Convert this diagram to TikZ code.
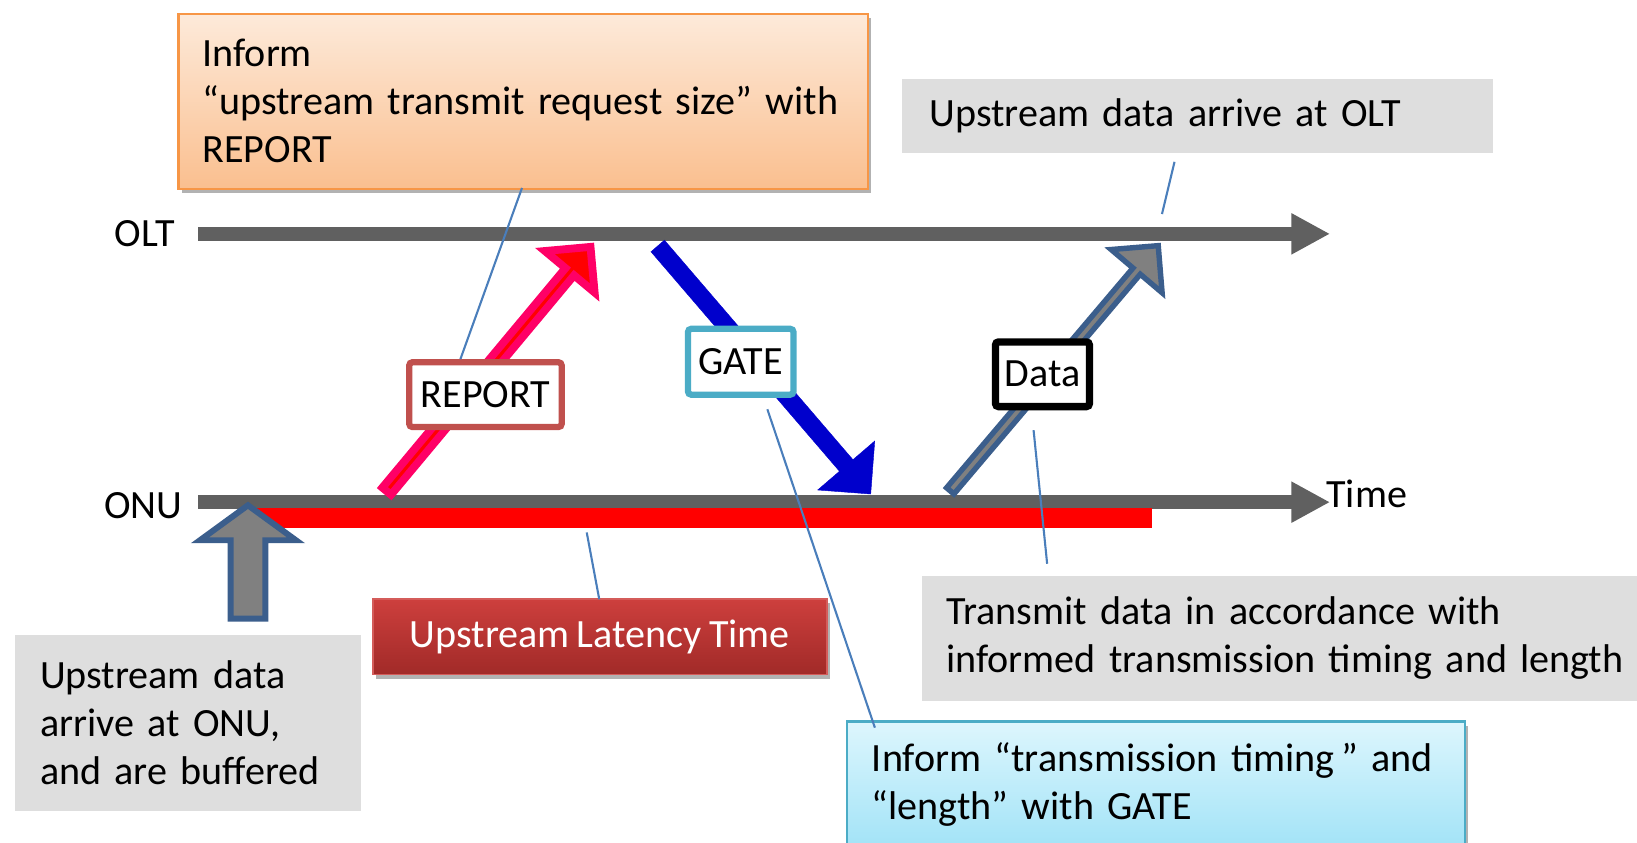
\documentclass[tikz,border=0pt]{standalone}
\usepackage{fontspec}
\setmainfont{Carlito}[WordSpace=0.8]
\usetikzlibrary{calc,arrows.meta,shadows}

\definecolor{axisgrey}{HTML}{606060}
\definecolor{notegrey}{HTML}{DEDEDE}
\definecolor{leaderblue}{HTML}{4A7EBB}
\definecolor{reportpink}{HTML}{FF0066}
\definecolor{reportred}{HTML}{C0504D}
\definecolor{gatecyan}{HTML}{4BACC6}
\definecolor{gateblue}{HTML}{0000CC}
\definecolor{dataedge}{HTML}{3B5E8C}
\definecolor{datafill}{HTML}{808080}
\definecolor{peachtop}{HTML}{FDEADA}
\definecolor{peachbot}{HTML}{FABF8F}
\definecolor{peachedge}{HTML}{F79646}
\definecolor{skytop}{HTML}{DDF6FD}
\definecolor{skybot}{HTML}{A2E3F7}
\definecolor{latencytop}{HTML}{CD3F3D}
\definecolor{latencybot}{HTML}{A12A28}

% block arrow: #1 style, #2 tail, #3 tip, #4 half shaft, #5 half head, #6 head length
\newcommand\blockarrow[6]{%
  \coordinate (#2-#3-hb) at ($(#3)!#6!(#2)$);
  \filldraw[#1] ($(#2)!#4!90:(#3)$) -- ($(#2-#3-hb)!#4!90:(#3)$)
    -- ($(#2-#3-hb)!#5!90:(#3)$) -- (#3) -- ($(#2-#3-hb)!#5!-90:(#3)$)
    -- ($(#2-#3-hb)!#4!-90:(#3)$) -- ($(#2)!#4!-90:(#3)$) -- cycle;
}
% one unbreakable text line
\newcommand\oneline[1]{\mbox{#1}}

\begin{document}
\begin{tikzpicture}[x=0.5pt,y=-0.5pt,
  font=\fontsize{19.2}{23}\selectfont,
  timeline/.style={draw=axisgrey, line width=6.4pt,
    -{Triangle[length=18.5pt,width=18.4pt]}},
  axislabel/.style={inner sep=0pt},
  tag/.style={draw, fill=white, rounded corners=1.5pt, inner sep=0pt},
  note/.style={fill=notegrey, anchor=north west, align=left, inner ysep=0pt},
  leader/.style={draw=leaderblue, line width=1pt},
  softshadow/.style={drop shadow={shadow xshift=1.5pt, shadow yshift=-2pt,
    opacity=0.3, fill=black}},
  miter/.style={line join=miter, miter limit=10}]

\useasboundingbox (0,0) rectangle (1568,807);

% time axes
\coordinate (olt-a) at (190,224);
\coordinate (olt-b) at (1274,224);
\coordinate (onu-a) at (190,481);
\coordinate (onu-b) at (1274,481);
\draw[timeline] (olt-a) -- (olt-b);
\draw[timeline] (onu-a) -- (onu-b);
\node[axislabel, anchor=east] (olt) at (168,224) {OLT};
\node[axislabel, anchor=east] (onu) at (175,484) {ONU};
\node[axislabel, anchor=west] (time) at (1270,473) {Time};

% latency bar
\fill[red] (240,487) rectangle (1103,506);

% messages
\coordinate (rep-a) at (370.4,470.5);
\coordinate (rep-b) at (565.6,236.5);
\blockarrow{fill=red, draw=reportpink, line width=3.75pt, miter}{rep-a}{rep-b}{2.7pt}{15.5pt}{15.5pt}

\coordinate (gate-a) at (630,235.6);
\coordinate (gate-b) at (834,473.2);
\blockarrow{fill=gateblue, draw=gateblue, line width=0.2pt, miter}{gate-a}{gate-b}{4.25pt}{18pt}{18pt}

\coordinate (data-a) at (910.2,470.2);
\coordinate (data-b) at (1109.4,235.3);
\blockarrow{fill=datafill, draw=dataedge, line width=2.6pt, miter}{data-a}{data-b}{2.3pt}{16pt}{16pt}

% arrival at ONU
\coordinate (in-a) at (237.5,592.6);
\coordinate (in-b) at (237.5,484);
\blockarrow{fill=datafill, draw=dataedge, line width=2.85pt, miter}{in-a}{in-b}{8.3pt}{23pt}{16.75pt}

% message tags
\node[tag, draw=reportred, line width=3pt, minimum width=73pt, minimum height=31pt] (report) at (465,378) {REPORT};
\node[tag, draw=gatecyan, line width=3pt, minimum width=50.5pt, minimum height=31.5pt] (gate) at (709.5,346.5) {GATE};
\node[tag, draw=black, line width=3.5pt, minimum width=45pt, minimum height=31pt] (data) at (998.5,358.5) {Data};

% explanation boxes
\node[softshadow, draw=peachedge, line width=1pt, top color=peachtop, bottom color=peachbot,
  anchor=north west, align=left, inner xsep=11.5pt, inner ysep=0pt,
  text width=307pt, minimum height=84pt] (reqnote) at (170,12)
  {\oneline{Inform}\\\oneline{“upstream transmit request size” with}\\\oneline{REPORT}};

\node[note, inner xsep=13pt, text width=257pt, minimum height=35.5pt] (oltnote) at (864,75)
  {\oneline{Upstream data arrive at OLT}};

\node[note, inner xsep=12pt, text width=141.5pt, minimum height=84pt] (onunote) at (14,608)
  {\oneline{Upstream data}\\\oneline{arrive at ONU,}\\\oneline{and are buffered}};

\node[note, inner xsep=11.5pt, text width=331pt, minimum height=60pt] (txnote) at (883,551)
  {\oneline{Transmit data in accordance with}\\\oneline{informed transmission timing and length}};

\node[softshadow, draw=latencytop!85!white, line width=0.8pt, top color=latencytop, bottom color=latencybot,
  text=white, minimum width=217.5pt, minimum height=36pt, inner sep=0pt] (latency) at (574.5,610)
  {Upstream Latency Time};

\node[softshadow, draw=gatecyan, line width=1.2pt, top color=skytop, bottom color=skybot,
  anchor=north west, align=left, inner xsep=12pt, inner ysep=0pt,
  text width=272pt, minimum height=60.5pt] (gatenote) at (810,690)
  {\oneline{Inform “transmission timing\,” and}\\\oneline{“length” with GATE}};

% leader lines
\coordinate (l1a) at (500,180);   \coordinate (l1b) at (441,344);
\coordinate (l2a) at (1125,155);  \coordinate (l2b) at (1113,205);
\coordinate (l3a) at (735,392);   \coordinate (l3b) at (838,697);
\coordinate (l4a) at (990,412);   \coordinate (l4b) at (1003,540);
\coordinate (l5a) at (574,574);   \coordinate (l5b) at (562,510);
\draw[leader] (l1a) -- (l1b);
\draw[leader] (l2a) -- (l2b);
\draw[leader] (l3a) -- (l3b);
\draw[leader] (l4a) -- (l4b);
\draw[leader] (l5a) -- (l5b);

\end{tikzpicture}
\end{document}
